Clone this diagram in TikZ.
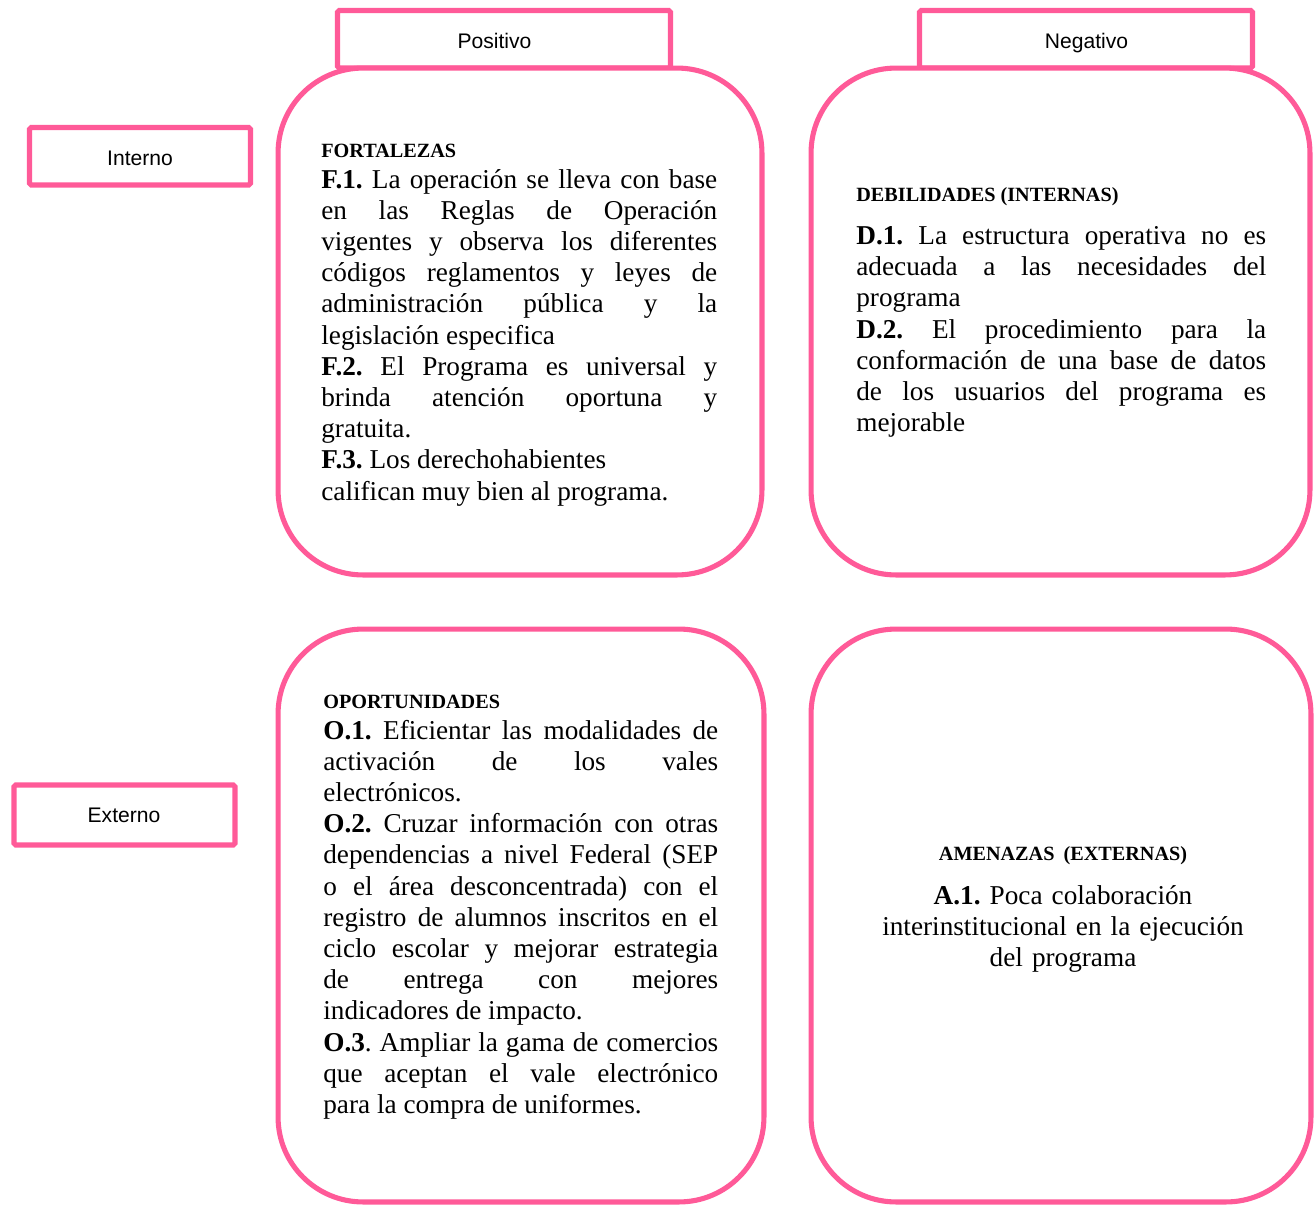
\documentclass[tikz,border=0pt]{standalone}
\usepackage{fontspec}
\setmainfont{Liberation Serif}
\newfontfamily\arialfont{Liberation Sans}
\definecolor{rosa}{RGB}{255,90,152}
\newcommand{\cuerpo}{\fontsize{15.5}{17.75}\selectfont}
\newcommand{\titulo}[1]{{\bfseries\fontsize{11.5}{17.75}\selectfont #1\par}}
\tolerance=10000
\hbadness=10000
\hyphenpenalty=10000
\exhyphenpenalty=10000
\frenchspacing
\setlength\parindent{0pt}

\begin{document}
\begin{tikzpicture}[x=0.02cm, y=-0.02cm,
	caja/.style={draw=rosa, line width=2.9pt, fill=white, rounded corners=1.7cm},
	pestana/.style={draw=rosa, line width=2.9pt, fill=white, rounded corners=1pt, minimum width=6.66cm, minimum height=1.15cm},
	lado/.style={draw=rosa, line width=2.9pt, fill=white, rounded corners=1pt, minimum width=4.42cm},
	etiqueta/.style={anchor=base, inner sep=0pt, font=\arialfont\fontsize{12}{14}\selectfont},
	texto/.style={anchor=base west, inner sep=0pt, align=justify, font=\cuerpo}]
	\useasboundingbox (0,0) rectangle (1315,1204);

	\node[pestana] (ppos) at (504,39.25) {};
	\node[pestana] (pneg) at (1086,39.25) {};
	\node[lado, minimum height=1.15cm] (pint) at (140,156.25) {};
	\node[lado, minimum height=1.2cm] (pext) at (124.5,815) {};

	\node[caja, minimum width=9.68cm, minimum height=10.14cm] (fort) at (520,321.5) {};
	\node[caja, minimum width=9.98cm, minimum height=10.14cm] (debil) at (1060.5,321.5) {};
	\node[caja, minimum width=9.72cm, minimum height=11.46cm] (oport) at (521,915.5) {};
	\node[caja, minimum width=10cm, minimum height=11.46cm] (amen) at (1061,915.5) {};

	\node[etiqueta] (lpos) at (494.5,48.5) {Positivo};
	\node[etiqueta] (lneg) at (1086.5,48.5) {Negativo};
	\node[etiqueta] (lint) at (140,165) {Interno};
	\node[etiqueta] (lext) at (124,822.3) {Externo};

	\node[texto, text width=7.92cm] (tfort) at (321,157) {\titulo{FORTALEZAS}
		\textbf{F.1.} La operación se lleva con base\linebreak
		en las Reglas de Operación\linebreak
		vigentes y observa los diferentes\linebreak
		códigos reglamentos y leyes de\linebreak
		administración pública y la\linebreak
		legislación especifica\par
		\textbf{F.2.} El Programa es universal y\linebreak
		brinda atención oportuna y\linebreak
		gratuita.\par
		\textbf{F.3.} Los derechohabientes\par
		califican muy bien al programa.};

	\node[texto, text width=8.2cm] (tdebil) at (856,201) {\titulo{DEBILIDADES (INTERNAS)}\vspace{7pt}
		\textbf{D.1.} La estructura operativa no es\linebreak
		adecuada a las necesidades del\linebreak
		programa\par
		\textbf{D.2.} El procedimiento para la\linebreak
		conformación de una base de datos\linebreak
		de los usuarios del programa es\linebreak
		mejorable};

	\node[texto, text width=7.9cm] (toport) at (323,708) {\titulo{OPORTUNIDADES}
		\textbf{O.1.} Eficientar las modalidades de\linebreak
		activación de los vales\linebreak
		electrónicos.\par
		\textbf{O.2.} Cruzar información con otras\linebreak
		dependencias a nivel Federal (SEP\linebreak
		o el área desconcentrada) con el\linebreak
		registro de alumnos inscritos en el\linebreak
		ciclo escolar y mejorar estrategia\linebreak
		de entrega con mejores\linebreak
		indicadores de impacto.\par
		\textbf{O.3}. Ampliar la gama de comercios\linebreak
		que aceptan el vale electrónico\linebreak
		para la compra de uniformes.};

	\node[anchor=base, inner sep=0pt, text width=9cm, align=center, font=\cuerpo] (tamen) at (1063,860) {\mbox{\bfseries\fontsize{11.5}{17.75}\selectfont AMENAZAS (EXTERNAS)}\\[7.5pt]
		\textbf{A.1.} Poca colaboración\\
		interinstitucional en la ejecución\\
		del programa};
\end{tikzpicture}
\end{document}
